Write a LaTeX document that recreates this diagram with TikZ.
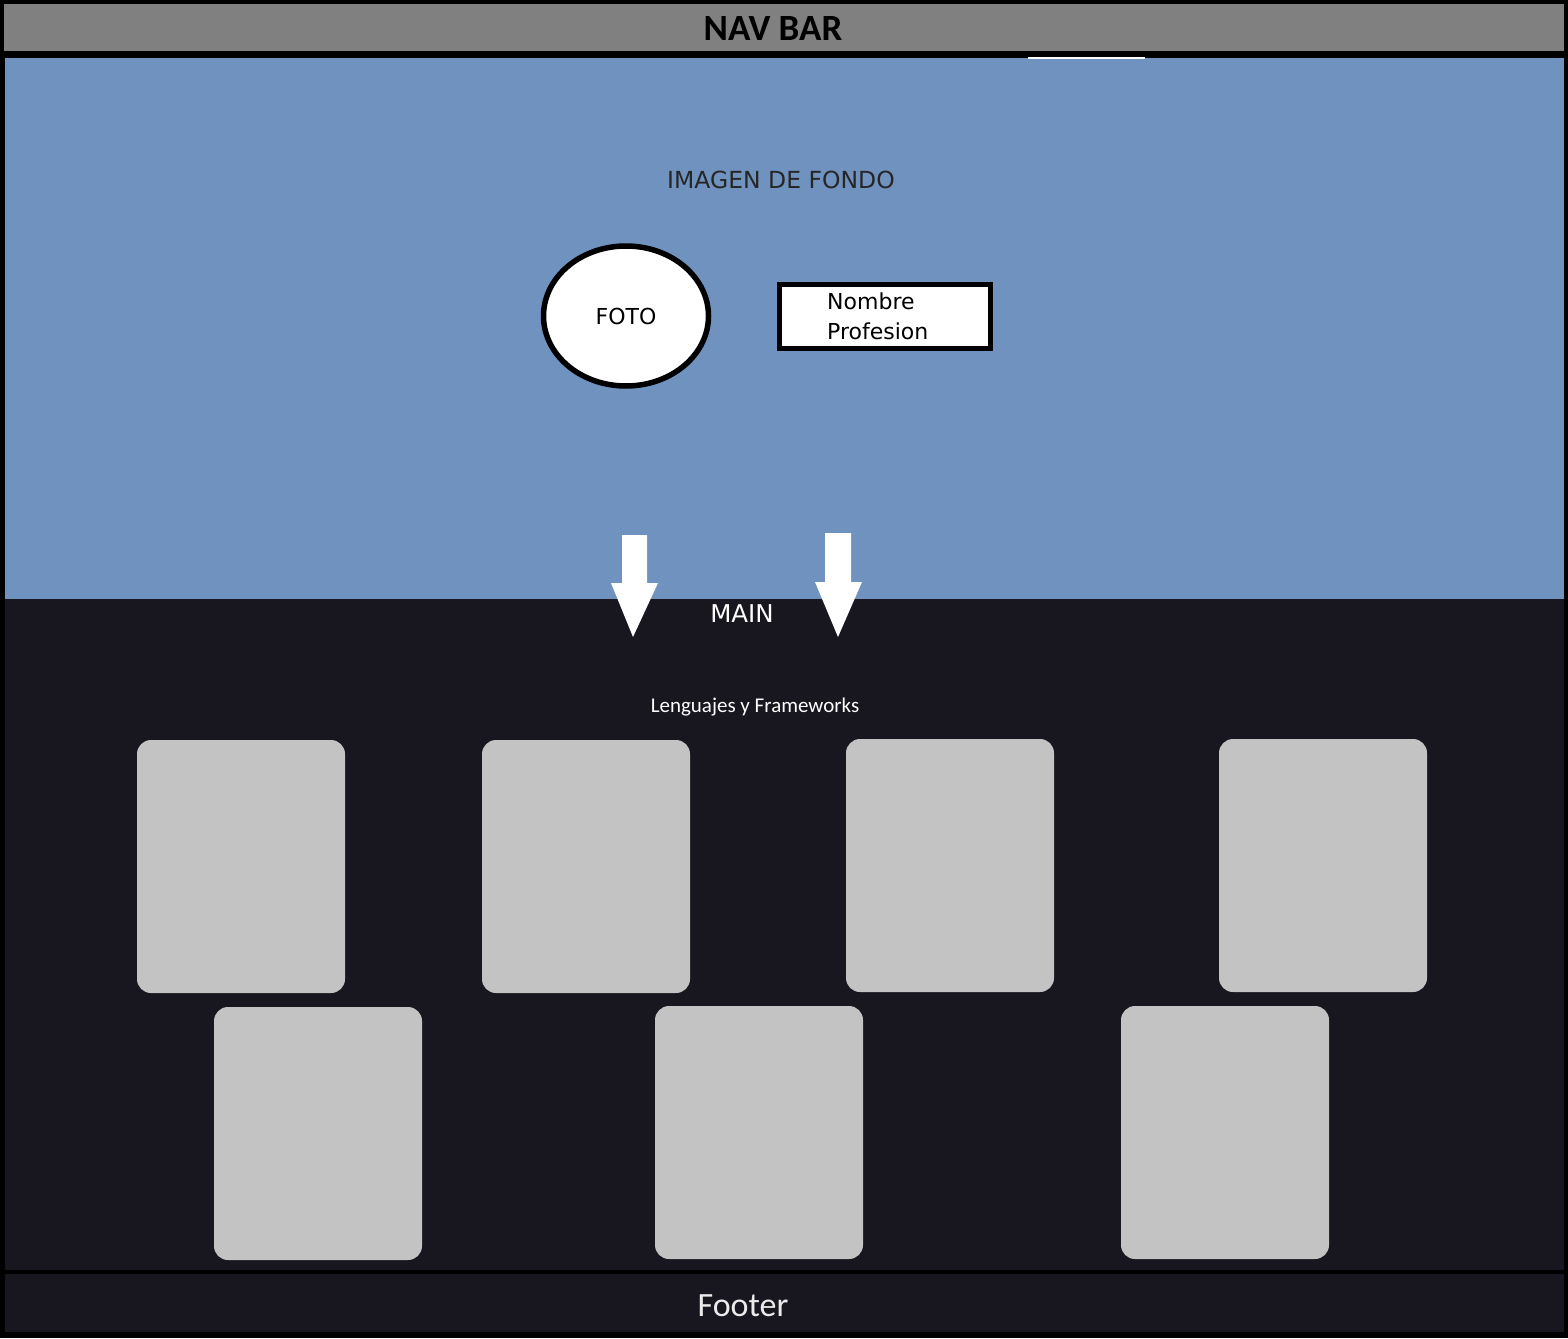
\documentclass[tikz,border=0pt]{standalone}
\usepackage{fontspec}
\setmainfont{DejaVu Sans}
\newfontfamily\calibri{Carlito}
\usetikzlibrary{positioning,shapes.geometric}
\definecolor{navgray}{RGB}{128,128,128}
\definecolor{heroblue}{RGB}{112,146,191}
\definecolor{maindark}{RGB}{24,22,30}
\definecolor{cardgray}{RGB}{195,195,195}

\begin{document}
\begin{tikzpicture}[x=1pt,y=-1pt]
\tikzset{card/.style={fill=cardgray, rounded corners=14pt, minimum width=208pt, minimum height=253pt, inner sep=0pt}} % tech cards
\tikzset{label/.style={font=\fontsize{22}{30}\selectfont, inner sep=0pt}}
\tikzset{section/.style={anchor=north west, inner sep=0pt, outer sep=0pt}}
% page frame and sections
\fill[black] (0,0) rectangle (1568,1338);
\node[section, fill=navgray, minimum width=1560pt, minimum height=47pt] (nav) at (4,4) {};
\node[section, fill=heroblue, minimum width=1559pt, minimum height=541pt] (hero) at (5,58) {};
\node[section, fill=maindark, minimum width=1559pt, minimum height=671pt] (main) at (5,599) {};
\node[section, fill=maindark, minimum width=1559pt, minimum height=58pt] (footer) at (5,1274) {};
\draw[white, line width=2pt] (1028,58) -- (1145,58);
% header texts
\node[font=\calibri\bfseries\fontsize{37}{40}\selectfont, inner sep=0pt] (navtext) at (773,29) {NAV BAR};
\node[label, font=\fontsize{23.5}{28}\selectfont, text=black!85] (herotext) at (781,180) {IMAGEN DE FONDO};
% foto and name
\node[draw, ellipse, line width=5.5pt, fill=white, minimum width=165pt, minimum height=140pt, label] (foto) at (626,316) {FOTO};
\node[draw, line width=5pt, fill=white, minimum width=211pt, minimum height=64pt, inner sep=0pt] (namebox) at (885,316.5) {};
\node[label, anchor=west, align=left] (nametext) at (827,316.5) {Nombre\\Profesion};
% arrows into main
\fill[white] (622,535) -- (647,535) -- (647,583) -- (658,583) -- (633,637) -- (611,583) -- (622,583) -- cycle;
\fill[white] (825,533) -- (851,533) -- (851,582) -- (862,582) -- (838,637) -- (815,582) -- (825,582) -- cycle;
\node[label, font=\fontsize{24.5}{28}\selectfont, text=white] (maintext) at (742,614) {MAIN};
\node[font=\calibri\fontsize{21}{24}\selectfont, text=white, inner sep=0pt] (langtext) at (755,707) {Lenguajes y Frameworks};
% cards
\foreach \x/\y [count=\i] in {241/866.5, 586/866.5, 950/865.5, 1323/865.5, 318/1133.5, 759/1132.5, 1225/1132.5}
  \node[card] (card\i) at (\x,\y) {};
\node[font=\calibri\fontsize{34}{38}\selectfont, text=black!8, inner sep=0pt] (footertext) at (743,1306) {Footer};
\end{tikzpicture}
\end{document}
